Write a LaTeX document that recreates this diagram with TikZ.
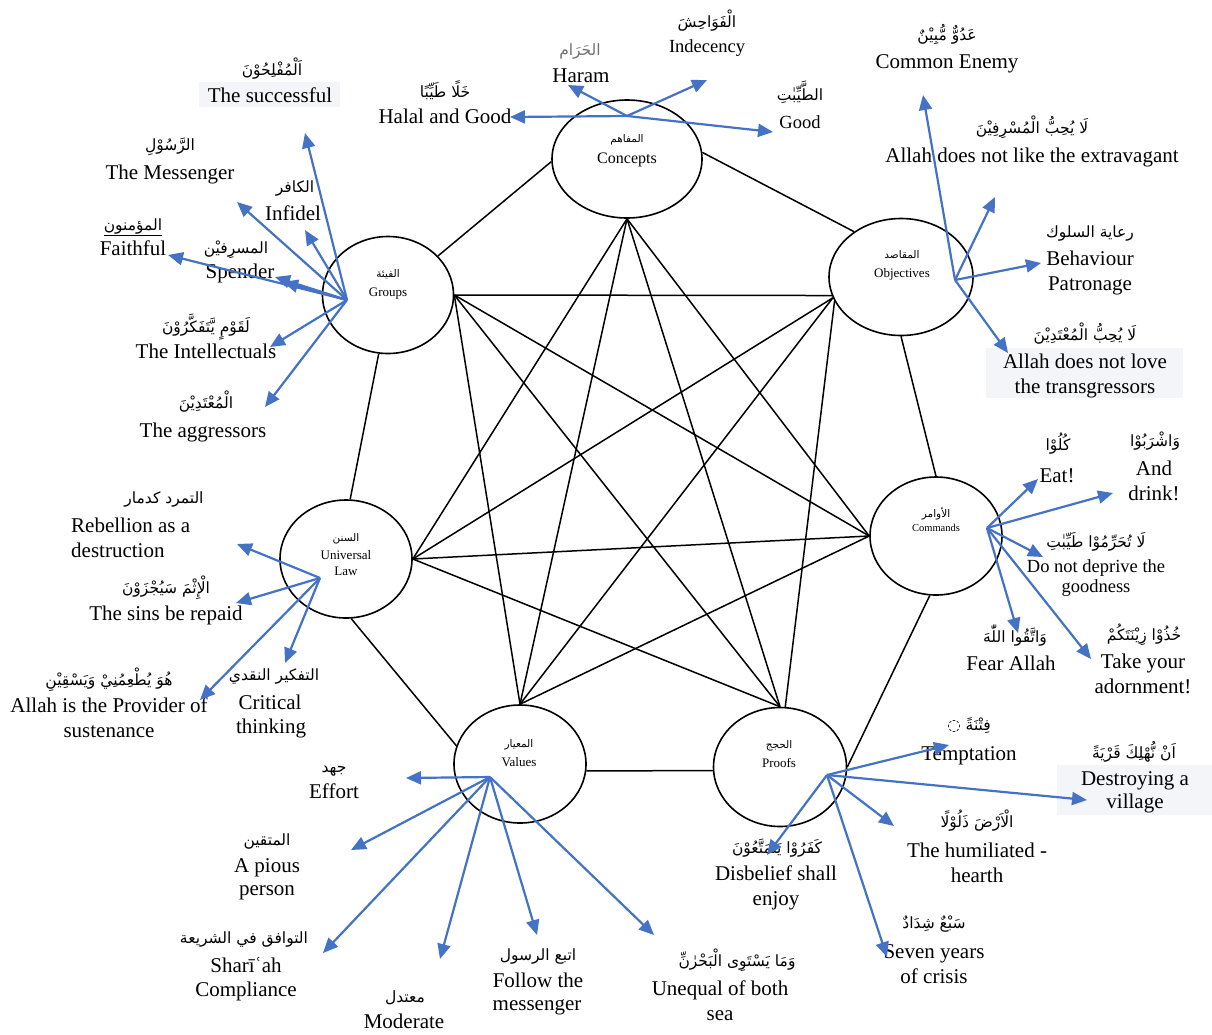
\documentclass[tikz,border=0pt]{standalone}
\usepackage{fontspec}
\setmainfont{Liberation Serif}
\newfontfamily\arabicfont[Script=Arabic]{DejaVu Sans}
\TeXXeTstate=1
\usetikzlibrary{shapes.geometric,arrows.meta}
\definecolor{arrowblue}{HTML}{4472C4}
\definecolor{boxbg}{HTML}{F4F5F8}
\definecolor{haramgray}{HTML}{707070}
\newcommand\AR[1]{{\arabicfont\beginR #1\endR}}
\tikzset{
  hub/.style={ellipse, draw=black, line width=1.6pt, inner sep=0pt},
  link/.style={draw=black, line width=1.5pt},
  ray/.style={draw=arrowblue, line width=2.2pt, -{Triangle[length=15pt,width=13pt]}},
  arl/.style={anchor=base, inner sep=0pt, font=\fontsize{15.5}{18}\selectfont},
  enl/.style={anchor=base, inner sep=0pt, font=\fontsize{21}{25}\selectfont},
  ens/.style={anchor=base, inner sep=0pt, font=\fontsize{18.5}{22}\selectfont},
  hubar/.style={anchor=base, inner sep=0pt, font=\fontsize{10.5}{12}\selectfont},
  huben/.style={anchor=base, inner sep=0pt, font=\fontsize{13}{15}\selectfont},
  bgbox/.style={fill=boxbg, draw=none},
}
\begin{document}
\begin{tikzpicture}[x=1pt,y=-1pt]
\useasboundingbox[fill=white] (0,0) rectangle (1212,1034);

% background boxes
\fill[bgbox] (199,82) rectangle (340,107);
\fill[bgbox] (986,348) rectangle (1183,398);
\fill[bgbox] (1057,765) rectangle (1212,815);

% hubs
\node[hub, minimum width=150pt, minimum height=118pt] (con) at (627,159) {};
\node[hub, minimum width=131pt, minimum height=117pt] (gro) at (388,295) {};
\node[hub, minimum width=144pt, minimum height=117pt] (obj) at (901,277) {};
\node[hub, minimum width=132pt, minimum height=118pt] (com) at (936,536) {};
\node[hub, minimum width=132pt, minimum height=118pt] (uni) at (346,559) {};
\node[hub, minimum width=132pt, minimum height=118pt] (val) at (520,764) {};
\node[hub, minimum width=133pt, minimum height=119pt] (pro) at (780,767) {};

% hub labels
\node[hubar] (conA) at (627,142) {\AR{المفاهم}};
\node[huben, font=\fontsize{16}{18}\selectfont] (conE) at (627,163) {Concepts};
\node[hubar] (groA) at (388,277) {\AR{الفيئة}};
\node[huben] (groE) at (388,296) {Groups};
\node[hubar] (objA) at (902,258) {\AR{المقاصد}};
\node[huben] (objE) at (902,277) {Objectives};
\node[hubar] (comA) at (936,517) {\AR{الأوامر}};
\node[huben, font=\fontsize{10.5}{12}\selectfont] (comE) at (936,531) {Commands};
\node[hubar] (uniA) at (346,541) {\AR{السنن}};
\node[huben] (uniE) at (346,559) {Universal};
\node[huben] (uniE2) at (346,575) {Law};
\node[hubar] (valA) at (519,747) {\AR{المعيار}};
\node[huben] (valE) at (519,766) {Values};
\node[hubar] (proA) at (779,748) {\AR{الحجج}};
\node[huben] (proE) at (779,767) {Proofs};

% sides
\draw[link] (con.182) -- (gro.38);
\draw[link] (con.5) -- (obj.136);
\draw[link] (obj.south) -- (com.north);
\draw[link] (com.264) -- (pro.east);
\draw[link] (val.-6) -- (pro.183);
\draw[link] (uni.275) -- (val.164);
\draw[link] (gro.261) -- (uni.86);
% diagonals
\draw[link] (con.south) -- (uni.east);
\draw[link] (con.south) -- (val.north);
\draw[link] (con.south) -- (pro.north);
\draw[link] (con.south) -- (com.west);
\draw[link] (gro.east) -- (obj.195);
\draw[link] (gro.east) -- (val.north);
\draw[link] (gro.east) -- (pro.north);
\draw[link] (gro.east) -- (com.west);
\draw[link] (obj.197) -- (uni.east);
\draw[link] (obj.197) -- (val.north);
\draw[link] (obj.200) -- (pro.85);
\draw[link] (uni.east) -- (com.west);
\draw[link] (uni.east) -- (pro.north);
\draw[link] (val.north) -- (com.west);

% ---- Concepts labels
\node[arl] (c1a) at (445,97) {\AR{خَلًا طَيِّبًا}};
\node[enl] (c1e) at (445,123) {Halal and Good};
\node[arl, text=haramgray] (c2a) at (580,55) {\AR{الحَرَام}};
\node[enl] (c2e) at (581,82) {Haram};
\node[arl] (c3a) at (707,27) {\AR{الْفَوَاحِشَ}};
\node[ens] (c3e) at (707,52) {Indecency};
\node[arl] (c4a) at (800,100) {\AR{الطَّيِّبٰتِ}};
\node[ens] (c4e) at (800,128) {Good};

% ---- Groups labels
\node[arl] (g1a) at (272,75) {\AR{اَلْمُفْلِحُوْنَ}};
\node[enl] (g1e) at (270,102) {The successful};
\node[arl] (g2a) at (170,150) {\AR{الرَّسُوْلِ}};
\node[enl] (g2e) at (170,179) {The Messenger};
\node[arl] (g3a) at (295,192) {\AR{الكافر}};
\node[enl] (g3e) at (293,220) {Infidel};
\node[arl] (g4a) at (133,230) {\underline{\AR{المؤمنون}}};
\node[enl] (g4e) at (133,255) {Faithful};
\node[arl] (g5a) at (236,253) {\AR{المسرِفيْن}};
\node[enl] (g5e) at (240,278) {Spender};
\node[arl] (g6a) at (206,332) {\AR{لَقَوْمٍ يَّتَفَكَّرُوْنَ}};
\node[enl] (g6e) at (206,358) {The Intellectuals};
\node[arl] (g7a) at (206,408) {\AR{الْمُعْتَدِيْنَ}};
\node[enl] (g7e) at (203,437) {The aggressors};

% ---- Objectives labels
\node[arl] (o1a) at (947,40) {\AR{عَدُوٌّ مُّبِيْنٌ}};
\node[enl] (o1e) at (947,68) {Common Enemy};
\node[arl] (o2a) at (1032,133) {\AR{لَا يُحِبُّ الْمُسْرِفِيْنَ}};
\node[enl] (o2e) at (1032,162) {Allah does not like the extravagant};
\node[arl] (o3a) at (1090,237) {\AR{رعاية السلوك}};
\node[enl] (o3e) at (1090,265) {Behaviour};
\node[enl] (o3f) at (1090,290) {Patronage};
\node[arl] (o4a) at (1085,340) {\AR{لَا يُحِبُّ الْمُعْتَدِيْنَ}};
\node[enl] (o4e) at (1085,368) {Allah does not love};
\node[enl] (o4f) at (1085,393) {the transgressors};

% ---- Commands labels
\node[arl] (m1a) at (1058,450) {\AR{كُلُوْا}};
\node[enl] (m1e) at (1057,482) {Eat!};
\node[arl] (m2a) at (1155,446) {\AR{وَاشْرَبُوْا}};
\node[enl] (m2e) at (1154,475) {And};
\node[enl] (m2f) at (1154,500) {drink!};
\node[arl] (m3a) at (1096,547) {\AR{لَا تُحَرِّمُوْا طَيِّبٰتِ}};
\node[ens] (m3e) at (1096,572) {Do not deprive the};
\node[ens] (m3f) at (1096,592) {goodness};
\node[arl] (m4a) at (1015,642) {\AR{وَاتَّقُوا اللّٰهَ}};
\node[enl] (m4e) at (1011,670) {Fear Allah};
\node[arl] (m5a) at (1144,640) {\AR{خُذُوْا زِيْنَتَكُمْ}};
\node[enl] (m5e) at (1143,668) {Take your};
\node[enl] (m5f) at (1143,693) {adornment!};

% ---- Universal Law labels
\node[arl] (u1a) at (164,503) {\AR{التمرد كدمار}};
\node[enl, anchor=base west] (u1e) at (71,532) {Rebellion as a};
\node[enl, anchor=base west] (u1f) at (71,557) {destruction};
\node[arl] (u2a) at (166,593) {\AR{الْإِثْمَ سَيُجْزَوْنَ}};
\node[enl] (u2e) at (166,620) {The sins be repaid};
\node[arl] (u3a) at (109,685) {\AR{هُوَ يُطْعِمُنِيْ وَيَسْقِيْنِ}};
\node[enl] (u3e) at (109,712) {Allah is the Provider of};
\node[enl] (u3f) at (109,737) {sustenance};
\node[arl] (u4a) at (274,680) {\AR{التفكير  النقدي}};
\node[enl] (u4e) at (270,709) {Critical};
\node[enl] (u4f) at (271,733) {thinking};

% ---- Values labels
\node[arl] (v1a) at (334,772) {\AR{جهد}};
\node[enl] (v1e) at (334,798) {Effort};
\node[arl] (v2a) at (267,845) {\AR{المتقين}};
\node[enl] (v2e) at (267,872) {A pious};
\node[enl] (v2f) at (267,895) {person};
\node[arl] (v3a) at (244,943) {\AR{التوافق  في الشريعة}};
\node[enl] (v3e) at (246,972) {Sharīʿah};
\node[enl] (v3f) at (246,996) {Compliance};
\node[arl] (v4a) at (405,1002) {\AR{معتدل}};
\node[enl] (v4e) at (404,1028) {Moderate};
\node[arl] (v5a) at (538,960) {\AR{اتبع الرسول}};
\node[enl] (v5e) at (538,987) {Follow the};
\node[enl] (v5f) at (537,1010) {messenger};
\node[arl] (v6a) at (737,966) {\AR{وَمَا يَسْتَوِى الْبَحْرٰنِّ}};
\node[enl] (v6e) at (720,995) {Unequal of both};
\node[enl] (v6f) at (720,1020) {sea};

% ---- Proofs labels
\node[arl] (p1a) at (969,730) {\AR{فِتْنَةً ◌}};
\node[enl] (p1e) at (969,760) {Temptation};
\node[arl] (p2a) at (1134,758) {\AR{اَنْ نُّهْلِكَ قَرْيَةً}};
\node[enl] (p2e) at (1135,785) {Destroying a};
\node[enl] (p2f) at (1135,808) {village};
\node[arl] (p3a) at (977,827) {\AR{الْاَرْضَ ذَلُوْلًا}};
\node[enl] (p3e) at (977,857) {The humiliated -};
\node[enl] (p3f) at (977,882) {hearth};
\node[arl] (p4a) at (777,853) {\AR{كَفَرُوْا يَتَمَتَّعُوْنَ}};
\node[enl] (p4e) at (776,880) {Disbelief shall};
\node[enl] (p4f) at (776,905) {enjoy};
\node[arl] (p5a) at (934,928) {\AR{سَبْعٌ شِدَادٌ}};
\node[enl] (p5e) at (934,958) {Seven years};
\node[enl] (p5f) at (934,983) {of crisis};

% ---- arrow origins and tips
\coordinate (cO) at (627,116);
\coordinate (cT1) at (510,117);
\coordinate (cT2) at (568,85);
\coordinate (cT3) at (707,80);
\coordinate (cT4) at (773,132);
\coordinate (gO) at (347,300);
\coordinate (gT1) at (305,133);
\coordinate (gT2) at (237,202);
\coordinate (gT3) at (305,230);
\coordinate (gT4) at (168,255);
\coordinate (gT5) at (275,277);
\coordinate (gT5b) at (283,282);
\coordinate (gT6) at (270,347);
\coordinate (gT7) at (265,407);
\coordinate (oO) at (955,280);
\coordinate (oT1) at (923,95);
\coordinate (oT2) at (995,197);
\coordinate (oT3) at (1041,263);
\coordinate (oT4) at (1008,353);
\coordinate (mO) at (987,528);
\coordinate (mT1) at (1038,479);
\coordinate (mT2) at (1113,493);
\coordinate (mT3) at (1043,557);
\coordinate (mT4) at (1018,633);
\coordinate (mT5) at (1091,659);
\coordinate (uO) at (320,578);
\coordinate (uT1) at (237,544);
\coordinate (uT2) at (236,603);
\coordinate (uT3) at (200,700);
\coordinate (uT4) at (285,663);
\coordinate (vO) at (490,777);
\coordinate (vT1) at (406,778);
\coordinate (vT2) at (351,850);
\coordinate (vT3) at (323,953);
\coordinate (vT4) at (440,959);
\coordinate (vT5) at (537,935);
\coordinate (vT6) at (654,935);
\coordinate (pO) at (827,775);
\coordinate (pT1) at (949,745);
\coordinate (pT2) at (1087,800);
\coordinate (pT3) at (894,826);
\coordinate (pT4) at (767,855);
\coordinate (pT5) at (887,957);

\foreach \t in {cT1,cT2,cT3,cT4} \draw[ray] (cO) -- (\t);
\foreach \t in {gT1,gT2,gT3,gT4,gT5,gT5b,gT6,gT7} \draw[ray] (gO) -- (\t);
\foreach \t in {oT1,oT2,oT3,oT4} \draw[ray] (oO) -- (\t);
\foreach \t in {mT1,mT2,mT3,mT4,mT5} \draw[ray] (mO) -- (\t);
\foreach \t in {uT1,uT2,uT3,uT4} \draw[ray] (uO) -- (\t);
\foreach \t in {vT1,vT2,vT3,vT4,vT5,vT6} \draw[ray] (vO) -- (\t);
\foreach \t in {pT1,pT2,pT3,pT4,pT5} \draw[ray] (pO) -- (\t);
\end{tikzpicture}
\end{document}
